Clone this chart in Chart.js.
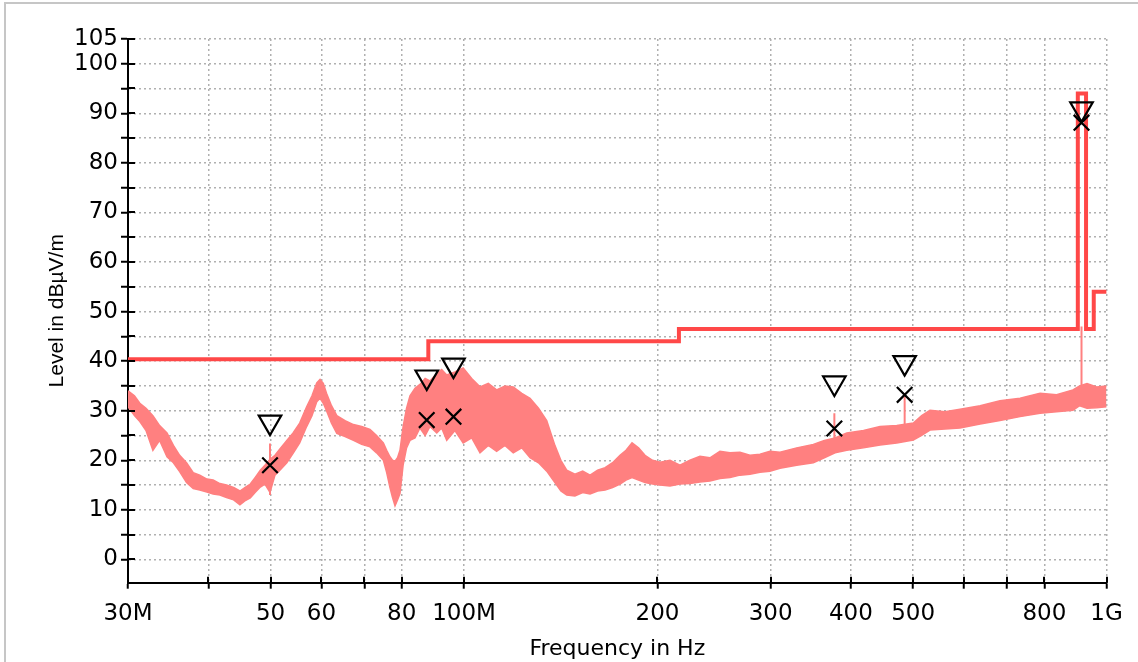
<!DOCTYPE html>
<html><head><meta charset="utf-8">
<script src="https://cdn.jsdelivr.net/npm/chart.js@4"></script>
<style>
html,body{margin:0;padding:0;background:#fff;overflow:hidden;}
#wrap{position:relative;width:1138px;height:662px;overflow:hidden;}
#frame{position:absolute;left:4px;top:2px;width:1200px;height:700px;border-left:2px solid #c6c6c6;border-top:2px solid #c6c6c6;}
canvas{position:absolute;left:0;top:0;}
</style></head><body>
<div id="wrap"><div id="frame"></div><canvas id="c" width="1138" height="662"></canvas></div>
<script>
// Frequencies in MHz, levels in dBµV/m
const traceFreq  = [30, 30.7, 31.3, 32.0, 32.8, 33.6, 34.5, 35.3, 36.1, 37.0, 37.9, 38.8, 39.8, 40.7, 41.7, 42.7, 43.8, 44.8, 45.6, 46.5, 47.3, 48.2, 49.0, 49.9, 50.8, 51.7, 53.0, 54.2, 55.5, 56.9, 58.0, 59.0, 59.7, 60.4, 61.1, 62.2, 63.4, 65.3, 67.3, 69.3, 71.4, 73.1, 74.9, 75.8, 76.7, 77.4, 78.1, 78.8, 79.5, 80.4, 81.4, 82.4, 83.9, 85.4, 87.0, 88.5, 90.7, 92.3, 94.0, 96.8, 99.7, 102.8, 105.9, 109.1, 112.4, 115.8, 119.3, 123.0, 126.7, 130.6, 134.5, 138.5, 141.5, 144.5, 148.8, 153.0, 157.1, 161.4, 165.8, 170.3, 174.9, 178.7, 182.6, 186.9, 191.3, 196.5, 201.9, 209.2, 216.8, 224.7, 232.9, 241.4, 250.2, 259.3, 268.8, 278.6, 288.8, 299.3, 310.3, 329.4, 349.6, 363.7, 378, 394.2, 418.5, 444.1, 471.4, 500.3, 515.5, 531.1, 560.5, 591.4, 635.6, 682.5, 733.4, 787.9, 835.8, 886.5, 908, 932.2, 965, 1000];
const traceUpper = [34.0, 33.0, 31.5, 30.5, 29.0, 27.0, 25.5, 23.0, 21.0, 19.5, 17.5, 17.0, 16.2, 16.0, 15.3, 15.0, 14.5, 13.8, 14.5, 15.2, 16.5, 18.0, 19.0, 20.2, 21.0, 22.3, 24.0, 25.5, 27.5, 30.8, 33.0, 35.6, 36.3, 35.5, 33.5, 31.0, 29.0, 28.0, 27.2, 26.8, 26.2, 25.0, 23.5, 22.0, 20.7, 20.0, 19.8, 20.5, 22.0, 26.8, 30.5, 33.0, 34.5, 35.3, 36.5, 36.0, 37.5, 38.3, 37.2, 37.8, 38.6, 36.5, 34.8, 35.5, 34.2, 35.0, 34.8, 33.5, 32.5, 30.5, 28.0, 23.0, 20.0, 18.0, 17.2, 17.8, 17.0, 18.0, 18.5, 19.5, 21.0, 22.0, 23.5, 22.5, 21.0, 20.0, 19.6, 20.0, 19.0, 20.0, 20.8, 20.5, 21.8, 21.5, 21.6, 21.0, 21.2, 21.8, 21.6, 22.5, 23.2, 24.0, 24.5, 25.5, 26.0, 26.8, 27.0, 27.5, 29.0, 30.1, 29.8, 30.3, 31.0, 32.0, 32.5, 33.5, 33.2, 34.2, 35.0, 35.5, 34.8, 35.0];
const traceLower = [30.8, 29.0, 27.8, 26.0, 22.0, 24.0, 20.7, 19.5, 17.7, 15.5, 14.3, 14.0, 13.6, 13.2, 13.0, 12.5, 12.0, 11.0, 11.8, 12.4, 13.5, 14.6, 15.2, 13.5, 17.0, 18.0, 19.5, 21.4, 23.5, 26.8, 29.0, 31.8, 32.5, 31.5, 30.0, 27.5, 25.4, 24.8, 24.0, 23.2, 22.7, 21.5, 20.0, 17.5, 14.5, 12.5, 10.8, 12.0, 13.3, 19.0, 22.5, 24.0, 24.5, 26.5, 25.0, 26.8, 25.5, 26.5, 24.0, 26.0, 23.5, 24.5, 21.5, 23.0, 21.8, 23.0, 21.5, 22.5, 20.5, 19.5, 17.8, 15.5, 13.8, 13.0, 12.8, 13.5, 13.2, 13.8, 14.0, 14.5, 15.2, 16.0, 16.5, 16.0, 15.5, 15.2, 15.0, 14.8, 15.2, 15.3, 15.6, 15.8, 16.3, 16.5, 17.0, 17.2, 17.6, 17.8, 18.4, 19.0, 19.5, 20.5, 21.5, 22.0, 22.5, 23.1, 23.5, 24.1, 25.0, 26.1, 26.3, 26.5, 27.3, 28.0, 28.8, 29.5, 29.8, 30.1, 31.0, 30.5, 30.6, 30.8];
const spikeFreq  = [49.9, 49.9, null, 377, 377, null, 485, 485, null, 914, 914];
const spikeLevel = [13.0, 23.4, null, 22.5, 29.5, null, 25.5, 33.5, null, 34.0, 47.0];
const limitFreq  = [30, 88, 88, 216, 216, 902, 902, 929, 929, 955, 955, 1000];
const limitLevel = [40.4, 40.4, 44.0, 44.0, 46.5, 46.5, 94.0, 94.0, 46.5, 46.5, 54.0, 54.0];
const markerFreq = [49.9, 87.5, 96.3, 377, 485, 914];
const peakLevel  = [27.7, 36.8, 39.2, 35.6, 39.7, 90.9];
const qpLevel    = [19.0, 28.1, 28.8, 26.4, 33.2, 88.1];
const xTickValues = [30, 40, 50, 60, 70, 80, 100, 200, 300, 400, 500, 600, 700, 800, 1000];
const xTickLabels = ['30M', '', '50', '60', '', '80', '100M', '200', '300', '400', '500', '', '', '800', '1G'];
const yTickValues = [0, 5, 10, 15, 20, 25, 30, 35, 40, 45, 50, 55, 60, 65, 70, 75, 80, 85, 90, 95, 100, 105];
const yTickLabels = ['0', '', '10', '', '20', '', '30', '', '40', '', '50', '', '60', '', '70', '', '80', '', '90', '', '100', '105'];

const pts = (xs, ys) => xs.map((x, i) => (x === null ? {x: NaN, y: null} : {x: x, y: ys[i]}));
const TRACE = 'rgb(255,128,128)';
const LIMIT = 'rgb(255,72,72)';

const innerTicks = {
  id: 'innerTicks',
  afterDraw(chart) {
    const {ctx, scales: {x, y}, chartArea: a} = chart;
    ctx.save();
    ctx.strokeStyle = '#000';
    ctx.lineWidth = 2;
    ctx.beginPath();
    y.ticks.forEach(t => { const py = Math.round(y.getPixelForValue(t.value)); ctx.moveTo(a.left, py); ctx.lineTo(a.left + 7, py); });
    x.ticks.forEach(t => { const px = Math.round(x.getPixelForValue(t.value)); ctx.moveTo(px, a.bottom); ctx.lineTo(px, a.bottom - 6); });
    ctx.stroke();
    ctx.restore();
  }
};

new Chart(document.getElementById('c'), {
  type: 'line',
  data: {
    datasets: [
      {label: 'trace max', data: pts(traceFreq, traceUpper), borderColor: TRACE, borderWidth: 1.5, pointRadius: 0, tension: 0, fill: false, order: 3},
      {label: 'trace min', data: pts(traceFreq, traceLower), borderColor: TRACE, borderWidth: 1.5, pointRadius: 0, tension: 0, fill: '-1', backgroundColor: TRACE, order: 3},
      {label: 'spikes', data: pts(spikeFreq, spikeLevel), borderColor: TRACE, borderWidth: 2, pointRadius: 0, spanGaps: false, order: 2},
      {label: 'limit', data: pts(limitFreq, limitLevel), borderColor: LIMIT, borderWidth: 4, pointRadius: 0, order: 1},
      {label: 'peak', data: pts(markerFreq, peakLevel), showLine: false, pointStyle: 'triangle', rotation: 180, pointRadius: 13, pointBorderColor: '#000', pointBackgroundColor: 'rgba(0,0,0,0)', pointBorderWidth: 2.2, order: 0},
      {label: 'qp', data: pts(markerFreq, qpLevel), showLine: false, pointStyle: 'crossRot', pointRadius: 11, pointBorderColor: '#000', pointBorderWidth: 2.2, order: 0}
    ]
  },
  options: {
    responsive: false,
    animation: false,
    events: [],
    layout: {padding: {left: 0, right: 31.4, top: 38.9, bottom: 0}},
    plugins: {legend: {display: false}, tooltip: {enabled: false}},
    scales: {
      x: {
        type: 'logarithmic', min: 30, max: 1000,
        afterBuildTicks: s => { s.ticks = xTickValues.map(v => ({value: v})); },
        afterFit: s => { s.height = 79.3; },
        ticks: {autoSkip: false, maxRotation: 0, minRotation: 0, padding: 12, color: '#000',
          font: {family: 'DejaVu Sans', size: 23},
          callback: v => { const i = xTickValues.indexOf(v); return i >= 0 ? xTickLabels[i] : ''; }},
        grid: {color: '#b0b0b0', lineWidth: 1.5, tickColor: '#000', tickWidth: 2, tickLength: 6},
        border: {display: true, color: '#000', width: 2, dash: [2, 3]},
        title: {display: true, text: 'Frequency in Hz', color: '#000', font: {family: 'DejaVu Sans', size: 22}, padding: {top: 0, bottom: 0}}
      },
      y: {
        type: 'linear', min: -4.7, max: 105,
        afterBuildTicks: s => { s.ticks = yTickValues.map(v => ({value: v})); },
        afterFit: s => { s.width = 128; },
        ticks: {autoSkip: false, padding: 3, color: '#000',
          font: {family: 'DejaVu Sans', size: 23},
          callback: v => { const i = yTickValues.indexOf(v); return i >= 0 ? yTickLabels[i] : ''; }},
        grid: {color: '#b0b0b0', lineWidth: 1.5, tickColor: '#000', tickWidth: 2, tickLength: 7},
        border: {display: true, color: '#000', width: 2, dash: [2, 3]},
        title: {display: true, text: 'Level in dBµV/m', color: '#000', font: {family: 'Liberation Sans', size: 21}, padding: {top: 45, bottom: 0}}
      }
    }
  },
  plugins: [innerTicks]
});
</script>
</body></html>
